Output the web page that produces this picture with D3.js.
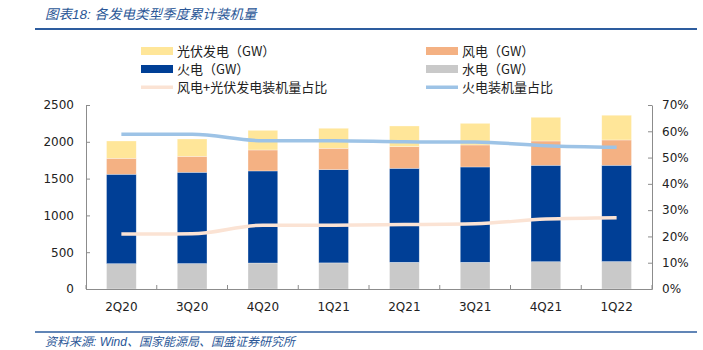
<!DOCTYPE html>
<html>
<head>
<meta charset="utf-8">
<script src="https://cdn.jsdelivr.net/npm/d3@7"></script>
<style>
  body { margin: 0; background: #fff; }
  text { font-family: "Liberation Sans", "Noto Sans CJK SC", sans-serif; }
</style>
</head>
<body>
<div id="chart"></div>
<script>
// Quarters on the x axis
const quarters = ["2Q20", "3Q20", "4Q20", "1Q21", "2Q21", "3Q21", "4Q21", "1Q22"];

// Installed capacity (GW)
const hydro   = [344, 346, 353, 355, 363, 363, 371, 373];
const thermal = [1215, 1240, 1251, 1267, 1277, 1295, 1310, 1308];
const wind    = [217, 217, 285, 290, 294, 299, 330, 344];
const solar   = [235, 235, 267, 272, 281, 294, 322, 336];

// Shares (right axis)
const thermalShare = [0.589, 0.589, 0.564, 0.564, 0.560, 0.559, 0.545, 0.539];
const renewShare   = [0.209, 0.210, 0.243, 0.243, 0.245, 0.248, 0.266, 0.271];

const leftTicks = [0, 500, 1000, 1500, 2000, 2500];
const rightTicks = [0, 0.1, 0.2, 0.3, 0.4, 0.5, 0.6, 0.7];

const W = 703, H = 350;
const margin = { top: 105, right: 51, bottom: 61, left: 86 };
const width = W - margin.left - margin.right,
  height = H - margin.top - margin.bottom;

const svg = d3.select("#chart").append("svg")
  .attr("width", W).attr("height", H);

// Title and source
svg.append("text")
  .attr("x", 45).attr("y", 19)
  .attr("fill", "#2b5797")
  .attr("font-size", 13.5)
  .attr("font-style", "italic")
  .text("图表18:  各发电类型季度累计装机量");

svg.append("line")
  .attr("x1", 35).attr("x2", 697).attr("y1", 29).attr("y2", 29)
  .attr("stroke", "#2d5c9e").attr("stroke-width", 2);

svg.append("line")
  .attr("x1", 35).attr("x2", 697).attr("y1", 332).attr("y2", 332)
  .attr("stroke", "#2d5c9e").attr("stroke-width", 1.5);

svg.append("text")
  .attr("x", 45).attr("y", 346)
  .attr("fill", "#2b5797")
  .attr("font-size", 12)
  .attr("font-style", "italic")
  .text("资料来源:  Wind、国家能源局、国盛证券研究所");

const g = svg.append("g")
  .attr("transform", `translate(${margin.left},${margin.top})`);

// Scales
const x = d3.scaleBand().domain(quarters).range([0, width]).paddingInner(0.58).paddingOuter(0.29);
const band = d3.scaleBand().domain(quarters).range([0, width]);
const y = d3.scaleLinear().domain([0, 2500]).range([height, 0]);
const y2 = d3.scaleLinear().domain([0, 0.7]).range([height, 0]);

// Stack data
const keys = ["hydro", "thermal", "wind", "solar"];
const colors = { hydro: "#c9c9c9", thermal: "#003f96", wind: "#f4b183", solar: "#ffe699" };
const table = quarters.map((q, i) => ({
  q, hydro: hydro[i], thermal: thermal[i], wind: wind[i], solar: solar[i]
}));
const stack = d3.stack().keys(keys)(table);

g.selectAll(".layer")
  .data(stack)
  .enter().append("g")
  .attr("fill", d => colors[d.key])
  .selectAll("rect")
  .data(d => d)
  .enter().append("rect")
  .attr("x", d => x(d.data.q))
  .attr("width", x.bandwidth())
  .attr("y", d => y(d[1]))
  .attr("height", d => y(d[0]) - y(d[1]))
  .attr("stroke", "#fff")
  .attr("stroke-opacity", 0.5)
  .attr("stroke-width", 0.6);

// Axes
const axisColor = "#8c8c8c";
const left = g.append("g")
  .call(d3.axisLeft(y).tickValues(leftTicks).tickFormat(d3.format("d")).tickSize(-4).tickPadding(12).tickSizeOuter(0));
const right = g.append("g")
  .attr("transform", `translate(${width},0)`)
  .call(d3.axisRight(y2).tickValues(rightTicks).tickFormat(d3.format(".0%")).tickSize(-4).tickPadding(10).tickSizeOuter(0));
const bottom = g.append("g")
  .attr("transform", `translate(0,${height})`)
  .call(d3.axisBottom(band).tickSize(0).tickPadding(13).tickSizeOuter(0));

// category separator ticks pointing up
g.append("g").selectAll("line")
  .data(d3.range(quarters.length + 1))
  .enter().append("line")
  .attr("x1", i => i * band.step()).attr("x2", i => i * band.step())
  .attr("y1", height).attr("y2", height - 4)
  .attr("stroke", axisColor);

[left, right, bottom].forEach(a => {
  a.selectAll("path").attr("stroke", axisColor);
  a.selectAll("line").attr("stroke", axisColor);
  a.selectAll("text").attr("fill", "#222")
    .style("font-family", "'DejaVu Sans', sans-serif").style("font-size", "12px");
});

// Lines
const line = d3.line()
  .x((d, i) => band(quarters[i]) + band.bandwidth() / 2)
  .y(d => y2(d))
  .curve(d3.curveMonotoneX);

g.append("path").datum(renewShare)
  .attr("d", line).attr("fill", "none")
  .attr("stroke", "#fbe3d4").attr("stroke-width", 3.5);

g.append("path").datum(thermalShare)
  .attr("d", line).attr("fill", "none")
  .attr("stroke", "#9dc3e6").attr("stroke-width", 3.5);

// Legend
const legendItems = [
  { label: "光伏发电（GW）", color: colors.solar, type: "box", col: 0, row: 0 },
  { label: "风电（GW）", color: colors.wind, type: "box", col: 1, row: 0 },
  { label: "火电（GW）", color: colors.thermal, type: "box", col: 0, row: 1 },
  { label: "水电（GW）", color: colors.hydro, type: "box", col: 1, row: 1 },
  { label: "风电+光伏发电装机量占比", color: "#fbe3d4", type: "line", col: 0, row: 2 },
  { label: "火电装机量占比", color: "#9dc3e6", type: "line", col: 1, row: 2 }
];
const colX = [141, 426], rowY = [51, 69, 87];
const legend = svg.append("g");
legendItems.forEach(d => {
  const lx = colX[d.col], ly = rowY[d.row];
  if (d.type === "box") {
    legend.append("rect").attr("x", lx).attr("y", ly - 4).attr("width", 32).attr("height", 8).attr("fill", d.color);
  } else {
    legend.append("rect").attr("x", lx).attr("y", ly - 1.5).attr("width", 32).attr("height", 3.5).attr("fill", d.color);
  }
  legend.append("text")
    .attr("x", lx + 36).attr("y", ly + 5)
    .attr("font-size", 13).attr("fill", "#222")
    .style("font-family", "'Noto Sans CJK SC', sans-serif")
    .text(d.label);
});
</script>
</body>
</html>
